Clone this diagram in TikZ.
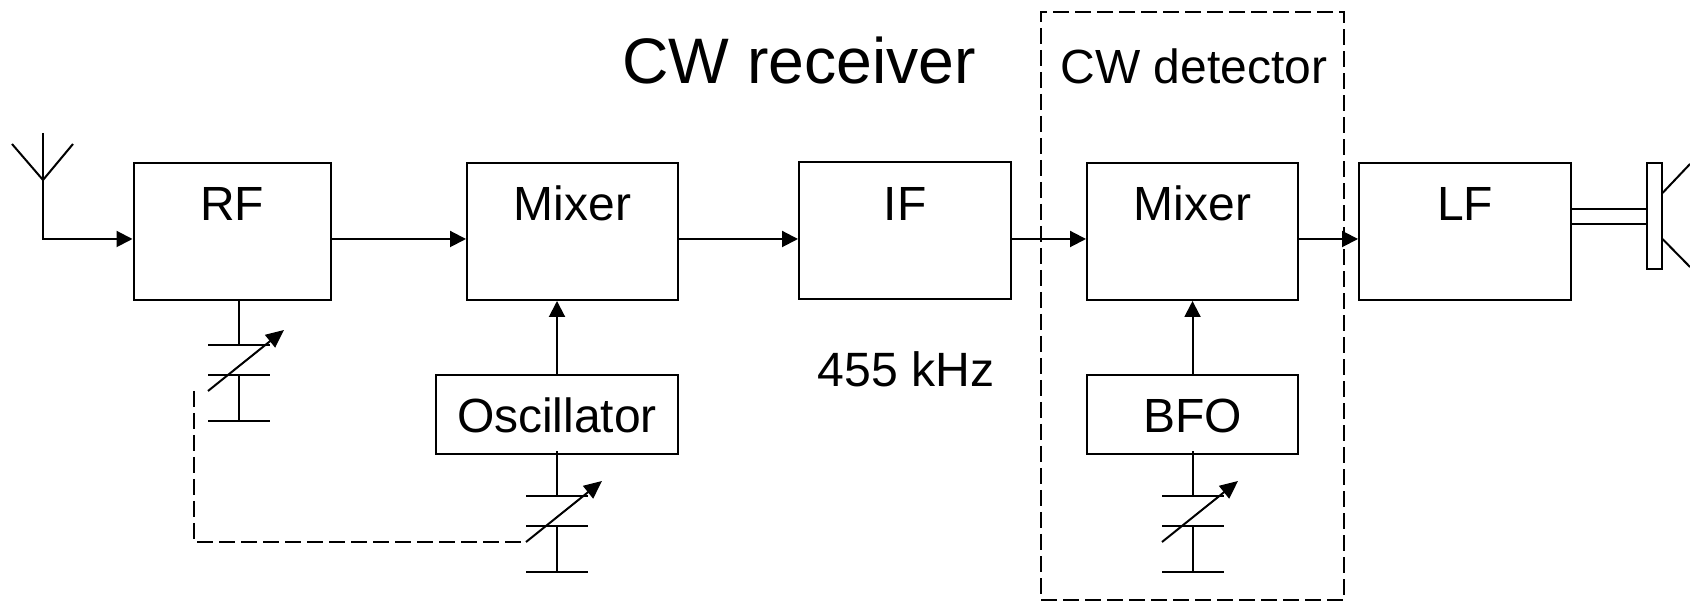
\documentclass[tikz,border=0pt]{standalone}
\usepackage{fontspec}
\setmainfont{Liberation Sans}
\usetikzlibrary{arrows.meta}
\tikzset{
  blockbox/.style={rectangle,draw,line width=.02cm,inner sep=0pt,text height=.58cm,text depth=.79cm,
    minimum height=1.37cm,font=\fontsize{13.65}{16}\selectfont},
  lowbox/.style={blockbox,text height=.58cm,text depth=.21cm,minimum height=.79cm},
  sig/.style={line width=.02cm,-{Triangle[length=.16cm,width=.16cm]}},
  wire/.style={line width=.02cm},
  gang/.style={line width=.02cm,dash pattern=on .16cm off .06cm},
  varcap/.pic={
    \draw[wire] (-.31,0) -- (.31,0) (-.31,-.3) -- (.31,-.3) (-.31,-.76) -- (.31,-.76) (0,-.3) -- (0,-.76);
    \draw[wire,-{Triangle[length=.18cm,width=.16cm]}] (-.31,-.46) -- (.45,.15);
    \coordinate (-top) at (0,0);
    \coordinate (-wiper) at (-.31,-.46);
  }
}
\begin{document}
\begin{tikzpicture}
\useasboundingbox (0,0) rectangle (16.9,6.01);
%blocks
\path (2.32,3.695) node(rf)[blockbox,minimum width=1.97cm]{RF}
(5.725,3.695) node(mix)[blockbox,minimum width=2.11cm]{Mixer}
(9.05,3.70) node(ifamp)[blockbox,minimum width=2.12cm]{IF}
(11.925,3.695) node(mixb)[blockbox,minimum width=2.11cm]{Mixer}
(14.65,3.695) node(lf)[blockbox,minimum width=2.12cm]{LF}
(5.57,1.865) node(osc)[lowbox,minimum width=2.42cm]{Oscillator}
(11.925,1.865) node(bfo)[lowbox,minimum width=2.11cm]{BFO}
(16.54,3.85) node(spk)[rectangle,draw,line width=.02cm,minimum width=.15cm,minimum height=1.06cm,inner sep=0pt]{}
(11.925,2.95) node(det)[rectangle,draw,gang,minimum width=3.03cm,minimum height=5.88cm,inner sep=0pt]{};
%texts
\path (7.99,5.17) node(title)[anchor=base,font=\fontsize{18.3}{22}\selectfont]{CW receiver}
(11.94,5.17) node(dettext)[anchor=base,font=\fontsize{13.65}{16}\selectfont]{CW detector}
(9.06,2.14) node(iftext)[anchor=base,font=\fontsize{13.7}{16}\selectfont]{455 kHz};
%antenna
\coordinate (anttop) at (.43,4.68);
\coordinate (antfork) at (.43,4.21);
\coordinate (antleft) at (.12,4.57);
\coordinate (antright) at (.73,4.57);
\coordinate (antbase) at (.43,3.62);
\draw[wire] (antleft) -- (antfork) -- (antright);
\draw[sig] (anttop) -- (antbase) -- (rf.west |- antbase);
%signal path
\foreach \a/\b in {rf/mix,mix/ifamp,ifamp/mixb,mixb/lf}
  \draw[sig] (\a.east |- antbase) -- (\b.west |- antbase);
\draw[sig] (osc.north) -- (osc.north |- mix.south);
\draw[sig] (bfo.north) -- (mixb.south);
%capacitors
\pic (rfcap) at (2.39,2.56) {varcap};
\pic (osccap) at (5.57,1.05) {varcap};
\pic (bfocap) at (11.93,1.05) {varcap};
\draw[wire] (rfcap-top) -- (rfcap-top |- rf.south);
\draw[wire] (osccap-top) -- ([yshift=.04cm]osccap-top |- osc.south);
\draw[wire] (bfocap-top) -- ([yshift=.04cm]bfocap-top |- bfo.south);
\draw[gang] ([xshift=-.14cm]rfcap-wiper) |- (osccap-wiper);
%speaker
\coordinate (conea) at (16.9,4.37);
\coordinate (coneb) at (16.9,3.34);
\draw[wire] ([yshift=.225cm]lf.east) -- ([yshift=.225cm]lf.east -| spk.west);
\draw[wire] ([yshift=.075cm]lf.east) -- ([yshift=.075cm]lf.east -| spk.west);
\draw[wire] ([yshift=.23cm]spk.east) -- (conea);
\draw[wire] ([yshift=-.23cm]spk.east) -- (coneb);
\end{tikzpicture}
\end{document}
